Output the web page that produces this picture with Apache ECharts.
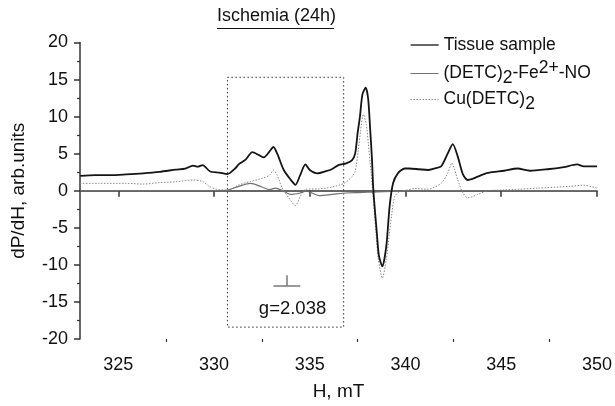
<!DOCTYPE html>
<html>
<head>
<meta charset="utf-8">
<script src="https://cdn.jsdelivr.net/npm/echarts@6/dist/echarts.min.js"></script>
<style>
  html, body { margin: 0; padding: 0; background: #fff; }
  #chart { width: 615px; height: 406px; }
</style>
</head>
<body>
<div id="chart"></div>
<script>
// field (mT) and signal values
const tissueH = [323.0, 323.8, 324.6, 325.4, 326.3, 327.15, 328.0, 328.5, 328.9, 329.15, 329.4, 329.8, 330.27, 330.7, 331.1, 331.3, 331.65, 332.0, 332.35, 332.6, 332.9, 333.1, 333.3, 333.64, 334.0, 334.25, 334.5, 334.77, 335.0, 335.4, 335.8, 336.15, 336.5, 336.9, 337.2, 337.37, 337.5, 337.62, 337.75, 337.92, 338.05, 338.15, 338.25, 338.32, 338.5, 338.61, 338.79, 339.0, 339.17, 339.35, 339.6, 339.96, 340.2, 340.7, 341.17, 341.5, 341.86, 342.2, 342.47, 342.73, 343.0, 343.25, 343.5, 343.77, 344.3, 345.15, 345.85, 346.5, 347.4, 348.27, 348.96, 349.3, 350.0];
const tissueV = [2.0, 2.1, 2.1, 2.2, 2.35, 2.55, 2.85, 3.0, 3.4, 3.25, 3.45, 2.6, 2.45, 2.25, 3.0, 3.6, 4.2, 5.2, 4.8, 4.5, 5.3, 5.9, 5.0, 2.8, 1.5, 0.8, 2.1, 3.55, 2.8, 2.35, 2.6, 2.9, 3.45, 3.7, 4.1, 5.0, 7.8, 10.0, 13.0, 13.9, 12.4, 8.5, 4.2, 0.1, -5.6, -8.75, -10.2, -7.4, -2.1, 1.0, 2.35, 3.0, 3.0, 2.9, 2.8, 3.0, 3.3, 5.0, 6.3, 4.6, 2.2, 1.45, 1.6, 1.9, 2.4, 2.7, 3.0, 2.7, 2.9, 3.2, 3.55, 3.3, 3.3];

const feH = [323.0, 326.0, 330.0, 330.7, 331.3, 331.9, 332.5, 332.9, 333.2, 333.55, 334.0, 334.5, 334.8, 335.5, 336.15, 336.9, 337.6, 338.5, 340.0, 342.0, 350.0];
const feV = [0, 0.02, 0.03, 0.1, 0.6, 1.0, 0.5, 0.15, 0.35, 0.05, -0.5, -0.3, -0.05, -0.65, -0.5, -0.3, -0.25, -0.15, -0.05, 0, 0];

const cuH = [323.0, 324.0, 325.4, 326.3, 327.15, 328.0, 328.9, 329.4, 329.74, 330.1, 330.7, 331.3, 331.9, 332.55, 332.9, 333.1, 333.3, 333.55, 333.9, 334.25, 334.5, 334.77, 335.5, 336.15, 336.8, 337.2, 337.37, 337.54, 337.65, 337.8, 337.95, 338.06, 338.2, 338.32, 338.45, 338.58, 338.79, 339.0, 339.15, 339.27, 339.44, 339.7, 340.0, 340.5, 341.17, 341.86, 342.2, 342.42, 342.55, 342.73, 343.0, 343.25, 343.5, 343.77, 344.3, 345.15, 346.9, 348.6, 349.3, 350.0];
const cuV = [1.0, 1.0, 1.0, 0.9, 1.1, 1.2, 1.45, 1.25, 0.6, 0.22, 0.05, 0.8, 1.25, 1.7, 2.1, 2.8, 2.1, 0.4, -0.95, -2.0, -0.8, 0.2, 0.25, 0.5, 1.0, 1.9, 2.6, 5.6, 8.0, 10.3, 9.0, 6.3, 2.5, -1.2, -5.5, -9.2, -11.8, -9.2, -6.0, -3.4, -0.75, -0.1, 0.05, 0.3, 0.2, 1.0, 2.3, 3.75, 3.0, 1.45, -0.3, -0.95, -0.8, -0.5, 0.0, 0.1, 0.35, 0.6, 0.75, 0.35];

const seriesNames = ['Tissue sample', '(DETC)2-Fe2+-NO', 'Cu(DETC)2'];
const xTicks = [325, 330, 335, 340, 345, 350];
const xMinorTicks = [327.5, 332.5, 337.5, 342.5, 347.5];

// dotted box and g-marker annotation (data units)
const boxCorners = [[330.7, 15.3], [336.77, -18.4]];
const gBarX = [333.1, 334.5];
const gBarY = -12.8;
const gStemX = 333.78;
const gStemTop = -11.4;
const gLabelAt = [334.1, -15.9];
const gLabel = 'g=2.038';

const pairs = (xs, ys) => xs.map((x, i) => [x, ys[i]]);

const FONT = 'Liberation Sans';

const legendRich = {
  sub: { fontSize: 17.5, fontFamily: FONT, color: '#111', lineHeight: 20, padding: [9, 0, 0, 0] },
  sup: { fontSize: 17.5, fontFamily: FONT, color: '#111', lineHeight: 20, padding: [0, 0, 10, 0] }
};

function legendLabel(name) {
  if (name === seriesNames[1]) return '(DETC){sub|2}-Fe{sup|2+}-NO';
  if (name === seriesNames[2]) return 'Cu(DETC){sub|2}';
  return name;
}

function makeLegend(name, top, lineWidth) {
  return {
    data: [name],
    left: 410,
    top: top,
    padding: 0,
    itemWidth: 28,
    itemHeight: 10,
    itemGap: 7,
    selectedMode: false,
    itemStyle: { opacity: 0 },
    lineStyle: { width: lineWidth },
    formatter: legendLabel,
    textStyle: { fontSize: 17.5, fontFamily: FONT, color: '#111', lineHeight: 20, rich: legendRich }
  };
}

const chart = echarts.init(document.getElementById('chart'), null, { renderer: 'canvas' });

const axisColor = '#333';

const option = {
  animation: false,
  backgroundColor: '#fff',
  title: {
    text: 'Ischemia (24h)',
    left: 217,
    top: 7,
    padding: 0,
    textStyle: { fontSize: 18, fontWeight: 'normal', fontFamily: FONT, color: '#111' }
  },
  graphic: [{
    type: 'line',
    shape: { x1: 217, y1: 28.5, x2: 334, y2: 28.5 },
    style: { stroke: '#111', lineWidth: 1 }
  }],
  legend: [
    makeLegend(seriesNames[0], 35, 1.3),
    makeLegend(seriesNames[1], 59.5, 1),
    makeLegend(seriesNames[2], 86, 1)
  ],
  grid: { left: 80, right: 15, top: 42.5, bottom: 62 },
  xAxis: [{
    type: 'value',
    min: 323,
    max: 350,
    name: 'H, mT',
    nameLocation: 'middle',
    nameGap: 43,
    nameTextStyle: { fontSize: 19, fontFamily: FONT, color: '#111' },
    splitLine: { show: false },
    axisLine: { lineStyle: { color: axisColor, width: 1.5 } },
    axisTick: { inside: false, length: 6, customValues: xTicks, lineStyle: { color: axisColor, width: 1.5 } },
    axisLabel: { customValues: xTicks, margin: 17, fontSize: 18, fontFamily: FONT, color: '#111' }
  }, {
    type: 'value',
    min: 323,
    max: 350,
    position: 'bottom',
    splitLine: { show: false },
    axisLine: { show: false },
    axisTick: { length: 3, customValues: xMinorTicks, lineStyle: { color: axisColor, width: 1.2 } },
    axisLabel: { show: false }
  }],
  yAxis: {
    type: 'value',
    min: -20,
    max: 20,
    interval: 5,
    name: 'dP/dH, arb.units',
    nameLocation: 'middle',
    nameGap: 52,
    nameTextStyle: { fontSize: 19, fontFamily: FONT, color: '#111' },
    splitLine: { show: false },
    axisLine: { show: true, lineStyle: { color: axisColor, width: 1.5 } },
    axisTick: { show: true, length: 6, lineStyle: { color: axisColor, width: 1.5 } },
    minorTick: { show: true, splitNumber: 2, length: 3, lineStyle: { color: axisColor, width: 1.2 } },
    axisLabel: { margin: 12, fontSize: 18, fontFamily: FONT, color: '#111' }
  },
  series: [
    {
      name: seriesNames[2],
      type: 'line',
      data: pairs(cuH, cuV),
      symbol: 'none',
      smooth: 0.25,
      z: 2,
      lineStyle: { color: '#8a8a8a', width: 1, type: [1.5, 1.5] },
      itemStyle: { color: '#8a8a8a' },
      emphasis: { disabled: true }
    },
    {
      name: seriesNames[1],
      type: 'line',
      data: pairs(feH, feV),
      symbol: 'none',
      smooth: 0.3,
      z: 3,
      lineStyle: { color: '#707070', width: 1.2 },
      itemStyle: { color: '#707070' },
      emphasis: { disabled: true },
      markLine: {
        silent: true,
        symbol: 'none',
        label: { show: false },
        lineStyle: { color: '#777', width: 1.5, type: 'solid' },
        data: [
          [{ coord: [gBarX[0], gBarY] }, { coord: [gBarX[1], gBarY] }],
          [{ coord: [gStemX, gBarY] }, { coord: [gStemX, gStemTop] }]
        ]
      },
      markPoint: {
        silent: true,
        symbol: 'circle',
        symbolSize: 0,
        label: { show: true, formatter: gLabel, fontSize: 18.5, fontFamily: FONT, color: '#111' },
        data: [{ coord: gLabelAt }]
      }
    },
    {
      name: seriesNames[0],
      type: 'line',
      data: pairs(tissueH, tissueV),
      symbol: 'none',
      smooth: 0.25,
      z: 4,
      lineStyle: { color: '#151515', width: 1.8 },
      itemStyle: { color: '#151515' },
      emphasis: { disabled: true },
      markArea: {
        silent: true,
        itemStyle: { color: 'rgba(0,0,0,0)', borderColor: '#333', borderWidth: 1, borderType: [1.5, 2.5] },
        data: [[{ coord: boxCorners[0] }, { coord: boxCorners[1] }]]
      }
    }
  ]
};

chart.setOption(option);
</script>
</body>
</html>
